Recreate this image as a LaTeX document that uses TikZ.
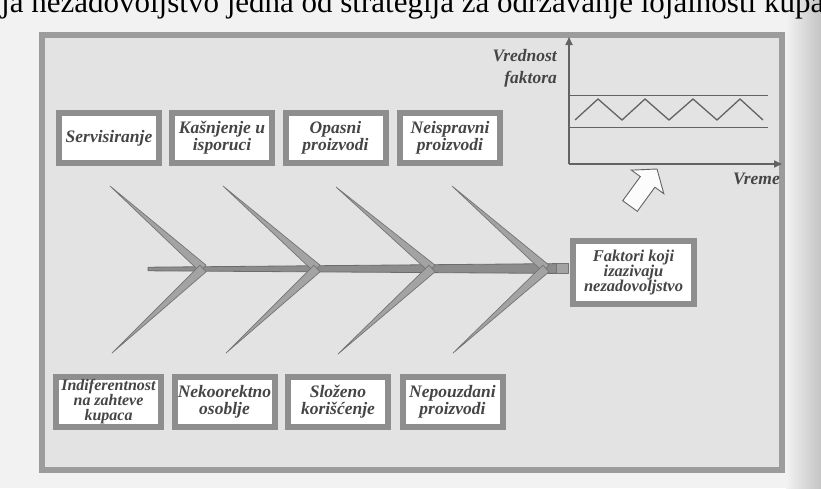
\documentclass[tikz,border=0pt]{standalone}
\usepackage{fontspec}
\setmainfont{Liberation Serif}
\usetikzlibrary{calc,arrows.meta}
\definecolor{paper}{HTML}{F2F2F2}
\definecolor{panel}{HTML}{E3E3E3}
\definecolor{frame}{HTML}{9C9C9C}
\definecolor{boxrim}{HTML}{8E8E8E}
\definecolor{ink}{HTML}{454545}
\definecolor{bone}{HTML}{A3A3A3}
\definecolor{boneedge}{HTML}{747474}
\definecolor{spinefill}{HTML}{8C8C8C}
\definecolor{spineedge}{HTML}{6C6C6C}
\definecolor{axis}{HTML}{636363}
\definecolor{edge}{HTML}{C4C4C4}
\tikzset{
  cause/.style={draw=boxrim, line width=6pt, fill=white, minimum width=100pt,
    minimum height=50pt, inner sep=0pt, align=center, text=ink,
    font=\bfseries\itshape\fontsize{17.5}{17}\selectfont},
  effect/.style={cause, minimum width=121pt, minimum height=63pt,
    font=\bfseries\itshape\fontsize{16.5}{15}\selectfont},
  bonefill/.style={fill=bone, draw=boneedge, line width=0.7pt, line join=round},
  spinefillst/.style={fill=spinefill, draw=spineedge, line width=0.8pt, line join=round},
  axisline/.style={draw=axis, line width=1.6pt, -{Triangle[length=8pt,width=7pt]}},
  guide/.style={draw=axis, line width=0.8pt},
  axislabel/.style={text=ink, inner sep=0pt, font=\bfseries\itshape\fontsize{17.5}{22}\selectfont},
}
\begin{document}
\begin{tikzpicture}[x=1pt,y=-1pt]
\useasboundingbox (0,0) rectangle (821,488);
\clip (0,0) rectangle (821,488);
% scanned page background
\fill[paper] (0,0) rectangle (821,488);
\shade[left color=paper, right color=edge] (786,0) rectangle (821,488);
% running text of the page above the figure
\node[anchor=base west, inner sep=0pt, text=black, font=\fontsize{31}{31}\selectfont]
  (running) at (1,12) {ja nezadovoljstvo jedna od strategija za održavanje lojalnosti kupa};
% figure panel
\draw[frame, line width=6pt, fill=panel] (42,35) rectangle (782,470);

% causes, upper row
\node[cause] (c1) at (109,138) {Servisiranje};
\node[cause] (c2) at (222,138) {Kašnjenje u\\isporuci};
\node[cause] (c3) at (335.5,138) {Opasni\\proizvodi};
\node[cause] (c4) at (450,138) {Neispravni\\proizvodi};
% causes, lower row
\node[cause, minimum width=105pt, font=\bfseries\itshape\fontsize{16}{14.5}\selectfont]
  (c5) at (108.5,401.5) {Indiferentnost\\na zahteve\\kupaca};
\node[cause] (c6) at (224.5,401.5) {Nekoorektno\\osoblje};
\node[cause] (c7) at (338,401.5) {Složeno\\korišćenje};
\node[cause] (c8) at (452.5,401.5) {Nepouzdani\\proizvodi};
% effect
\node[effect] (eff) at (633.5,272.5) {Faktori koji\\izazivaju\\nezadovoljstvo};

% fishbone skeleton
\coordinate (j1) at (203,268.5);
\coordinate (j2) at (317,268.5);
\coordinate (j3) at (432,268.5);
\coordinate (j4) at (546,268.5);
\coordinate (t1) at (110,186);
\coordinate (t2) at (223,186);
\coordinate (t3) at (336,187);
\coordinate (t4) at (452,186);
\coordinate (b1) at (112,353);
\coordinate (b2) at (226,353);
\coordinate (b3) at (338,354);
\coordinate (b4) at (453,353);

% spine, widening towards the head
\path[spinefillst] (148,267.2) -- (557,263.6) -- (557,273.4) -- (148,270.8) -- cycle;
\path[bonefill] (556,263.6) rectangle (568,273.4);

% ribs
\foreach \j/\t in {j1/t1,j2/t2,j3/t3,j4/t4,j1/b1,j2/b2,j3/b3,j4/b4}{
  \path[bonefill] (\t) -- ($(\j)!4.5pt!90:(\t)$) -- (\j) -- ($(\j)!4.5pt!-90:(\t)$) -- cycle;
}

% trend chart
\coordinate (origin) at (569,164);
\coordinate (ytop) at (569,37);
\coordinate (xend) at (782,164);
\draw[axisline] (origin) -- (ytop);
\draw[axisline] (origin) -- (xend);
\coordinate (u0) at (569,95);
\coordinate (u1) at (768,95);
\coordinate (l0) at (569,127);
\coordinate (l1) at (768,127);
\draw[guide] (u0) -- (u1);
\draw[guide] (l0) -- (l1);
\draw[axis, line width=1.3pt, line join=miter]
  (575,120) -- (598,99) -- (622,120) -- (645,99) -- (669,120) -- (693,99)
  -- (717,120) -- (740,99) -- (763,120);
\node[axislabel, anchor=east, align=right] (ylab) at (557,68) {Vrednost\\faktora};
\node[axislabel, anchor=base east] (xlab) at (780,184) {Vreme};

% hollow block arrow pointing at the chart
\draw[axis, line width=0.9pt, fill=white!90!panel, line join=miter]
  (657,169) -- (663.8,193.7) -- (654.9,187.2) -- (637.3,211.3)
  -- (622.7,200.7) -- (640.3,176.6) -- (631.4,170.1) -- cycle;
\end{tikzpicture}
\end{document}
